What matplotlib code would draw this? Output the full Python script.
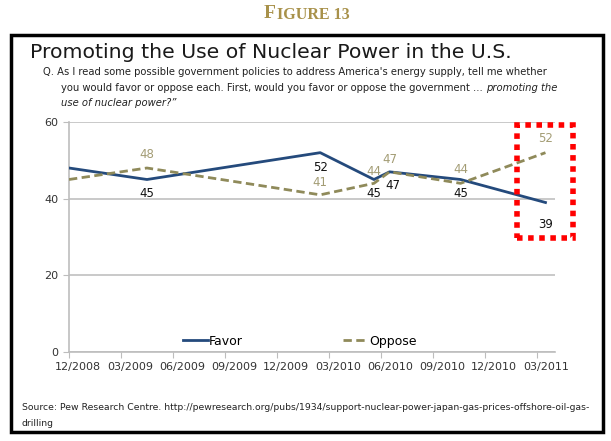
import matplotlib.pyplot as plt
import matplotlib.transforms as mtransforms
from matplotlib.patches import Rectangle

# months after Dec 2008
months = [0, 4.5, 14.5, 17.6, 18.5, 22.6, 27.5]
favor = [48, 45, 52, 45, 47, 45, 39]
oppose = [45, 48, 41, 44, 47, 44, 52]
tick_labels = ["12/2008", "03/2009", "06/2009", "09/2009", "12/2009",
               "03/2010", "06/2010", "09/2010", "12/2010", "03/2011"]

# which points get labels: index -> (x offset px, y offset px)
fav_labels = {1: (0, -14), 2: (0, -15), 3: (0, -14), 4: (3, -14), 5: (0, -14), 6: (0, -22)}
opp_labels = {1: (0, 14), 2: (0, 12), 3: (0, 12), 4: (0, 12), 5: (0, 14), 6: (0, 14)}

W, H = 611, 441
fig = plt.figure(figsize=(W / 100, H / 100), dpi=100)
plt.rcParams['font.family'] = ['DejaVu Sans']

def px(x, y):
    return x / W, 1 - y / H

# outer frame
fig.patches.append(Rectangle(px(11, 432), 592 / W, 397 / H, transform=fig.transFigure,
                             fill=False, lw=2.5, ec='black'))

gold = '#a8914a'
f1 = fig.text(*px(264, 14), "F", fontsize=14, family='Liberation Serif', weight='bold',
              color=gold, ha='left', va='center')
fig.canvas.draw()
x1 = f1.get_window_extent().x1
fig.text((x1 + 1) / W, 1 - 15 / H, "IGURE 13", fontsize=11.5,
         family='Liberation Serif', weight='bold', color=gold, ha='left', va='center')

fig.text(*px(30, 53), "Promoting the Use of Nuclear Power in the U.S.", fontsize=14.7,
         color='#1a1a1a', va='center', ha='left')

qfs = 7.2
fig.text(*px(43, 72), "Q. As I read some possible government policies to address America's energy supply, tell me whether",
         fontsize=qfs, color='#222222', va='center')
t = fig.text(*px(61, 88), "you would favor or oppose each. First, would you favor or oppose the government ... ",
             fontsize=qfs, color='#222222', va='center')
fig.canvas.draw()
bb = t.get_window_extent()
fig.text(bb.x1 / W, 1 - 88 / H, "promoting the", fontsize=qfs, color='#222222',
         style='italic', va='center')
fig.text(*px(61, 103), "use of nuclear power?\u201d", fontsize=qfs, color='#222222',
         style='italic', va='center')

ax = fig.add_axes([69 / W, (H - 352) / H, 486 / W, 230 / H])
ax.set_xlim(0, 28.05)
ax.set_ylim(0, 60)

ax.plot(months, favor, color='#244a7c', lw=2, label='Favor', zorder=3)
ax.plot(months, oppose, color='#8f8a5a', lw=2, dashes=(3, 1.6), label='Oppose', zorder=3)

for i, (dx, dy) in fav_labels.items():
    ax.annotate(str(favor[i]), (months[i], favor[i]), xytext=(dx, dy),
                textcoords='offset pixels', ha='center', va='center',
                fontsize=8.5, color='#111111')
for i, (dx, dy) in opp_labels.items():
    ax.annotate(str(oppose[i]), (months[i], oppose[i]), xytext=(dx, dy),
                textcoords='offset pixels', ha='center', va='center',
                fontsize=8.5, color='#a39c74')

ax.set_yticks([0, 20, 40, 60])
ax.set_xticks(range(0, 28, 3))
ax.set_xticklabels(tick_labels)
ax.grid(axis='y', color='#c0c0c0', lw=1.2)
ax.set_axisbelow(True)
for s in ['top', 'right']:
    ax.spines[s].set_visible(False)
for s in ['left', 'bottom']:
    ax.spines[s].set_color('#bdbdbd')
    ax.spines[s].set_linewidth(1.2)
ax.tick_params(axis='both', colors='#bdbdbd', length=4, labelsize=8, labelcolor='#333333')
ax.tick_params(axis='x', pad=3)
offset = mtransforms.ScaledTranslation(9 / 100, 0, fig.dpi_scale_trans)
for lab in ax.get_xticklabels():
    lab.set_transform(lab.get_transform() + offset)

ax.legend(loc='lower center', ncol=2, frameon=False, fontsize=9, handlelength=2.0,
          handletextpad=0.1, columnspacing=8, bbox_to_anchor=(0.475, -0.03))

# red dotted highlight box
fig.patches.append(Rectangle(px(517, 238), 56 / W, 113 / H, transform=fig.transFigure,
                             fill=False, lw=4, ec='#ff0000', linestyle=(0, (1, 1))))

sfs = 6.65
fig.text(*px(22, 408), "Source: Pew Research Centre. http://pewresearch.org/pubs/1934/support-nuclear-power-japan-gas-prices-offshore-oil-gas-",
         fontsize=sfs, color='#222222', va='center')
fig.text(*px(22, 423), "drilling", fontsize=sfs, color='#222222', va='center')

fig.savefig('out.png', dpi=100)
